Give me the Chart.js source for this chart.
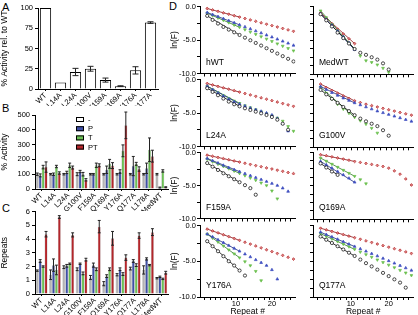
<!DOCTYPE html>
<html>
<head>
<meta charset="utf-8">
<script src="https://cdn.jsdelivr.net/npm/chart.js@4.4.0/dist/chart.umd.min.js"></script>
<style>
body { margin: 0; background: #fff; width: 418px; height: 315px; overflow: hidden; position: relative; font-family: 'Liberation Sans', Arial, sans-serif; }
canvas { position: absolute; }
.lab { position: absolute; font-size: 11px; line-height: 11px; }
</style>
</head>
<body>
<div class="lab" style="left:2px;top:2px">A</div>
<div class="lab" style="left:2px;top:103px">B</div>
<div class="lab" style="left:2px;top:203px">C</div>
<div class="lab" style="left:169px;top:1px">D</div>
<script>
// Panel A: activity relative to WT
const mutantsA = ['WT', 'L14A', 'L24A', 'G100V', 'F159A', 'Q169A', 'Y176A', 'Q177A'];
const activityRel = [100, 8, 21, 25, 11, 3.5, 23, 82];
const activityRelErr = [0, 0, 4.5, 3, 2.5, 0.5, 4.5, 1];

// Panels B and C
const mutantsBC = ['WT', 'L14A', 'L24A', 'G100V', 'F159A', 'Q169A', 'Y176A', 'Q177A', 'L178A', 'MedWT'];
const condLabels = ['-', 'P', 'T', 'PT'];

const activityNone = [100, 100, 100, 100, 100, 100, 100, 100, 100, 100];
const activityP = [92, 100, 112, 118, 100, 130, 118, 155, 140, 10];
const activityT = [148, 152, 160, 100, 160, 170, 258, 170, 265, 122];
const activityPT = [148, 108, 145, 62, 160, 158, 430, 135, 222, 12];
const activityNoneErr = [8, 5, 5, 10, 5, 5, 5, 5, 5, 5];
const activityPErr = [10, 8, 8, 8, 5, 25, 12, 65, 35, 3];
const activityTErr = [12, 8, 15, 12, 15, 30, 40, 10, 80, 8];
const activityPTErr = [35, 8, 10, 8, 10, 20, 90, 15, 40, 3];

const repeatsNone = [1.7, 1.4, 1.95, 1.8, 1.2, 0.75, 1.4, 1.85, 1.75, 1.15];
const repeatsP = [2.4, 2.1, 2.05, 2.2, 2.1, 1.3, 1.8, 2.4, 2.55, 1.25];
const repeatsT = [2.0, 1.75, 2.2, 1.5, 1.8, 1.8, 1.45, 2.1, 2.1, 1.1];
const repeatsPT = [4.35, 5.6, 4.3, 2.5, 4.9, 4.05, 2.65, 4.25, 4.5, 1.55];
const repeatsNoneErr = [0.05, 0.35, 0.1, 0.1, 0.15, 0.15, 0.08, 0.1, 0.3, 0.05];
const repeatsPErr = [0.1, 0.45, 0.1, 0.05, 0.15, 0.1, 0.1, 0.1, 0.08, 0.05];
const repeatsTErr = [0.05, 0.35, 0.05, 0.1, 0.1, 0.1, 0.1, 0.1, 0.05, 0.05];
const repeatsPTErr = [0.2, 0.1, 0.15, 0.1, 0.45, 0.5, 0.2, 0.2, 0.25, 0.1];

// Panel D: ln(F) against repeat number
const repeatX = [2, 3.5, 5, 6.5, 8, 9.5, 11, 12.5, 14, 15.5, 17, 18.5, 20, 21.5, 23, 24.5, 26];
const repeatTicks = [1.3, 2.8, 4.3, 5.8, 7.3, 8.8, 10.3, 11.8, 13.3, 14.8, 16.3, 17.8, 19.3, 20.8, 22.3, 23.8, 25.3];
const repeatLabels = [10, 20];
const lnTicks = [0, -1.25, -2.5, -3.75, -5, -6.25, -7.5, -8.75, -10];

const hwtNone = [-1.40, -2.00, -2.55, -3.05, -3.45, -3.85, -4.25, -4.65, -5.04, -5.44, -5.83, -6.23, -6.62, -7.02, -7.41, -7.81, -8.20];
const hwtP = [-0.90, -1.21, -1.51, -1.82, -2.12, -2.43, -2.74, -3.04, -3.35, -3.66, -3.96, -4.27, -4.57, -4.88, -5.19, -5.49, -5.80];
const hwtT = [-1.00, -1.35, -1.70, -2.05, -2.40, -2.75, -3.10, -3.45, -3.80, -4.15, -4.50, -4.85, -5.20, -5.55, -5.90, -6.25, -6.60];
const hwtPT = [-0.30, -0.51, -0.72, -0.94, -1.15, -1.36, -1.58, -1.79, -2.00, -2.21, -2.43, -2.64, -2.85, -3.06, -3.28, -3.49, -3.70];

const medNone = [-1.2, -2.1, -3.0, -3.9, -4.7, -5.5, -6.3, -6.85, -7.15, -7.5, -7.85, -8.4, -9.3];
const medP = [-1.1, -1.95, -2.8, -3.65, -4.5, -5.4, -6.4];
const medT = [-0.7, -1.7, -2.7, -3.6, -4.5, -5.4, -6.3, -7.3, -8.0, -8.25, -8.6, -9.1, -9.7];
const medPT = [-1.0, -1.8, -2.6, -3.4, -4.1, -4.8, -5.5];

const l24None = [-1.3, -1.85, -2.35, -2.85, -3.3, -3.7, -4.0, -4.3, -4.55, -4.8, -5.05, -5.3, -5.6, -6.0, -6.6, -7.5];
const l24P = [-1.0, -1.5, -2.0, -2.45, -2.9, -3.3, -3.65, -3.95, -4.25, -4.5, -4.75, -5.0, -5.3, -5.8, -6.6, -7.7];
const l24T = [-1.0, -1.5, -1.95, -2.4, -2.8, -3.2, -3.55, -3.9, -4.2, -4.5, -4.8, -5.1, -5.4, -5.75, -6.2, -7.0, -7.7];
const l24PT = [-0.60, -0.81, -1.03, -1.24, -1.45, -1.66, -1.88, -2.09, -2.30, -2.51, -2.73, -2.94, -3.15, -3.36, -3.58, -3.79, -4.00];

const g100None = [-1.6, -2.25, -2.9, -3.5, -4.1, -4.7, -5.3, -5.8, -6.2, -6.55, -6.9, -7.5, -8.3];
const g100P = [-1.1, -1.55, -2.0, -2.4, -2.8, -3.15, -3.5, -3.8, -4.1, -4.4, -4.7, -4.95, -5.2, -5.45, -5.7, -5.95, -6.2];
const g100T = [-1.2, -2.1, -2.9, -3.7, -4.4, -5.0, -5.6, -6.1, -6.6, -7.2, -7.9];
const g100PT = [-0.75, -1.25, -1.7, -2.1, -2.5, -2.85, -3.2, -3.45, -3.7, -3.9, -4.1, -4.3, -4.5, -4.7, -4.9, -5.1, -5.3];

const f159None = [-1.6, -2.15, -2.65, -3.15, -3.6, -4.05, -4.5, -4.95, -5.4, -6.4];
const f159P = [-0.9, -1.25, -1.6, -1.95, -2.3, -2.6, -2.9, -3.2, -3.5, -3.8, -4.1, -4.4, -4.7, -5.0, -5.4, -5.9];
const f159T = [-1.0, -1.4, -1.75, -2.1, -2.45, -2.8, -3.15, -3.5, -3.85, -4.2, -4.6, -5.0, -5.8, -7.0];
const f159PT = [-0.40, -0.58, -0.75, -0.93, -1.10, -1.28, -1.45, -1.63, -1.80, -1.98, -2.15, -2.33, -2.50, -2.68, -2.85, -3.03, -3.20];

const q169None = [-1.7, -2.3, -2.9, -3.4];
const q169P = [-1.4, -1.9, -2.4, -2.9, -3.4, -3.9, -4.5];
const q169T = [-0.9, -1.35, -1.8, -2.25, -2.7, -3.15, -3.6, -4.1, -4.7];
const q169PT = [-0.40, -0.55, -0.72, -0.88, -1.05, -1.22, -1.40, -1.55, -1.70, -1.85, -2.00, -2.15, -2.40, -2.80, -3.30, -4.00, -4.90];

const y176None = [-2.2, -2.9, -3.6, -4.3, -5.0, -5.6, -6.3, -7.0];
const y176P = [-1.2, -1.6, -2.0, -2.4, -2.8, -3.2, -3.6, -4.0, -4.4, -4.8, -5.2, -5.6, -6.2, -7.5];
const y176T = [-1.2, -1.75, -2.3, -2.85, -3.4, -3.95, -4.5, -5.05, -5.6, -6.4, -7.7];
const y176PT = [-0.50, -0.76, -1.03, -1.29, -1.55, -1.81, -2.08, -2.34, -2.60, -2.86, -3.13, -3.39, -3.65, -3.91, -4.18, -4.44, -4.70];

const q177None = [-1.6, -2.05, -2.5, -2.95, -3.4, -3.85, -4.3, -4.8, -5.3, -5.75, -6.2, -6.65, -7.1, -7.55, -8.0, -8.7];
const q177P = [-1.00, -1.33, -1.66, -1.99, -2.32, -2.66, -2.99, -3.32, -3.65, -3.98, -4.31, -4.64, -4.98, -5.31, -5.64, -5.97, -6.30];
const q177T = [-1.20, -1.56, -1.93, -2.29, -2.65, -3.01, -3.38, -3.74, -4.10, -4.46, -4.83, -5.19, -5.55, -5.91, -6.28, -6.64, -7.00];
const q177PT = [-0.45, -0.67, -0.89, -1.11, -1.33, -1.54, -1.76, -1.98, -2.20, -2.42, -2.64, -2.86, -3.08, -3.29, -3.51, -3.73, -3.95];

Chart.defaults.font.family = "'Liberation Sans', Arial, sans-serif";
Chart.defaults.font.size = 7.5;
Chart.defaults.color = '#000';
Chart.defaults.animation = false;
Chart.defaults.plugins.legend.display = false;
Chart.defaults.plugins.tooltip.enabled = false;

const axisLine = { display: true, color: '#000', width: 1 };
const tickGrid = { drawOnChartArea: false, color: '#000', tickLength: 3 };

const barColors = ['#b3b3b3', '#3f4fa6', '#6cbf55', '#b3262b'];
const legendFills = ['#fff', '#3f4fa6', '#6cbf55', '#b3262b'];

function addCanvas(left, top, w, h) {
  const c = document.createElement('canvas');
  c.width = w; c.height = h;
  c.style.left = left + 'px'; c.style.top = top + 'px';
  c.style.width = w + 'px'; c.style.height = h + 'px';
  document.body.appendChild(c);
  return c;
}

// error bars drawn from dataset.errors
const errorBars = {
  id: 'errorBars',
  afterDatasetsDraw(chart) {
    const ctx = chart.ctx, y = chart.scales.y;
    chart.data.datasets.forEach((ds, di) => {
      if (!ds.errors) return;
      chart.getDatasetMeta(di).data.forEach((bar, i) => {
        const e = ds.errors[i];
        if (!e) return;
        const v = ds.data[i];
        const top = y.getPixelForValue(v + e), bot = y.getPixelForValue(v - e);
        const half = Math.min(3, bar.width / 2);
        ctx.save();
        ctx.strokeStyle = '#222';
        ctx.lineWidth = 1;
        ctx.beginPath();
        ctx.moveTo(bar.x, top); ctx.lineTo(bar.x, bot);
        ctx.moveTo(bar.x - half, top); ctx.lineTo(bar.x + half, top);
        ctx.moveTo(bar.x - half, bot); ctx.lineTo(bar.x + half, bot);
        ctx.stroke();
        ctx.restore();
      });
    });
  }
};

// small boxed legend inside panel B
const boxLegend = {
  id: 'boxLegend',
  afterDraw(chart) {
    const ctx = chart.ctx, a = chart.chartArea;
    ctx.save();
    ctx.font = "7.5px 'Liberation Sans'";
    ctx.textBaseline = 'middle';
    chart.data.datasets.forEach((ds, i) => {
      const x = a.left + 41, y = a.top + 2 + i * 9.2;
      ctx.fillStyle = legendFills[i];
      ctx.fillRect(x, y, 8, 5);
      ctx.strokeStyle = '#000';
      ctx.lineWidth = 1;
      ctx.strokeRect(x + 0.5, y + 0.5, 7, 4);
      ctx.fillStyle = '#000';
      ctx.fillText(ds.label, x + 12, y + 3);
    });
    ctx.restore();
  }
};

const panelName = {
  id: 'panelName',
  afterDraw(chart, args, opts) {
    const ctx = chart.ctx, a = chart.chartArea;
    ctx.save();
    ctx.font = "8.5px 'Liberation Sans'";
    ctx.fillStyle = '#000';
    ctx.fillText(opts.text, a.left + 6, a.bottom - 9);
    ctx.restore();
  }
};

function catAxis(h) {
  return {
    grid: { drawOnChartArea: false, color: '#000', tickLength: 2, offset: false },
    border: axisLine,
    ticks: { minRotation: 45, maxRotation: 45, autoSkip: false, padding: 0 },
    afterFit: s => { s.height = h; }
  };
}

// A
new Chart(addCanvas(0, 0, 162, 106), {
  type: 'bar',
  data: {
    labels: mutantsA,
    datasets: [{ data: activityRel, errors: activityRelErr, backgroundColor: '#fff', borderColor: '#000', borderWidth: 1, barPercentage: 0.75, categoryPercentage: 1 }]
  },
  options: {
    responsive: false,
    layout: { padding: { top: 8, right: 4 } },
    scales: {
      x: catAxis(17),
      y: {
        min: 0, max: 100,
        ticks: { stepSize: 25, padding: 2 },
        grid: tickGrid, border: axisLine,
        title: { display: true, text: '% Activity rel. to WT', padding: 0, font: { size: 8.5 } },
        afterFit: s => { s.width = 38; }
      }
    }
  },
  plugins: [errorBars]
});

function groupedBars(canvas, values, errors, maxY, step, yTitle, padTop, xH, withLegend) {
  return new Chart(canvas, {
    type: 'bar',
    data: {
      labels: mutantsBC,
      datasets: condLabels.map((c, i) => ({
        label: c, data: values[i], errors: errors[i],
        backgroundColor: barColors[i], borderColor: 'rgba(0,0,0,0.35)', borderWidth: 0.5,
        barPercentage: 1, categoryPercentage: 0.88
      }))
    },
    options: {
      responsive: false,
      layout: { padding: { top: padTop, right: 4 } },
      scales: {
        x: catAxis(xH),
        y: {
          min: 0, max: maxY,
          ticks: { stepSize: step, padding: 2 },
          grid: tickGrid, border: axisLine,
          title: { display: true, text: yTitle, padding: 0, font: { size: 8.5 } },
          afterFit: s => { s.width = 35; }
        }
      }
    },
    plugins: withLegend ? [errorBars, boxLegend] : [errorBars]
  });
}

groupedBars(addCanvas(0, 103, 172, 108),
  [activityNone, activityP, activityT, activityPT],
  [activityNoneErr, activityPErr, activityTErr, activityPTErr],
  500, 100, '% Activity', 12, 22, true);

groupedBars(addCanvas(0, 205, 172, 110),
  [repeatsNone, repeatsP, repeatsT, repeatsPT],
  [repeatsNoneErr, repeatsPErr, repeatsTErr, repeatsPTErr],
  6, 1, 'Repeats', 6, 21, false);

// D
const decayStyles = [
  { pointStyle: 'circle', bg: '#fff', border: '#000', rotation: 0, fit: '#000', radius: 1.6 },
  { pointStyle: 'triangle', bg: '#3f4fc0', border: '#3f4fc0', rotation: 0, fit: '#1c2a80', radius: 1.6 },
  { pointStyle: 'triangle', bg: '#6cc04f', border: '#6cc04f', rotation: 180, fit: '#2f7a25', radius: 1.6 },
  { pointStyle: 'rectRot', bg: '#d98080', border: '#b8262a', rotation: 0, fit: '#8a1418', radius: 1.4 }
];
const rowAreas = [[5.5, 74], [79, 147.5], [152, 220], [224.5, 296]];
const fitPoints = 7;

const decayPanels = [
  { name: 'hWT', col: 0, row: 0, series: [hwtNone, hwtP, hwtT, hwtPT] },
  { name: 'MedWT', col: 1, row: 0, series: [medNone, medP, medT, medPT] },
  { name: 'L24A', col: 0, row: 1, series: [l24None, l24P, l24T, l24PT] },
  { name: 'G100V', col: 1, row: 1, series: [g100None, g100P, g100T, g100PT] },
  { name: 'F159A', col: 0, row: 2, series: [f159None, f159P, f159T, f159PT] },
  { name: 'Q169A', col: 1, row: 2, series: [q169None, q169P, q169T, q169PT] },
  { name: 'Y176A', col: 0, row: 3, series: [y176None, y176P, y176T, y176PT] },
  { name: 'Q177A', col: 1, row: 3, series: [q177None, q177P, q177T, q177PT] }
];

const xTickValues = repeatTicks.concat(repeatLabels).sort((a, b) => a - b);

decayPanels.forEach(p => {
  const leftCol = p.col === 0;
  const bottomRow = p.row === 3;
  const [areaTop, areaBottom] = rowAreas[p.row];
  const padTop = 5;
  const xH = bottomRow ? 19 : 4;
  const canvas = addCanvas(leftCol ? 170 : 305, areaTop - padTop, leftCol ? 130 : 113,
    Math.round(areaBottom - areaTop + padTop + xH));

  const datasets = [];
  p.series.forEach((ys, i) => {
    const st = decayStyles[i];
    datasets.push({
      data: ys.map((y, k) => ({ x: repeatX[k], y })),
      pointStyle: st.pointStyle, pointRotation: st.rotation,
      pointRadius: st.radius, pointBorderWidth: 0.7,
      pointBackgroundColor: st.bg, pointBorderColor: st.border,
      showLine: false
    });
  });
  p.series.forEach((ys, i) => {
    const n = Math.min(ys.length, fitPoints) - 1;
    datasets.push({
      data: [{ x: repeatX[0], y: ys[0] }, { x: repeatX[n], y: ys[n] }],
      showLine: true, pointRadius: 0, borderColor: decayStyles[i].fit, borderWidth: 0.8
    });
  });

  new Chart(canvas, {
    type: 'scatter',
    data: { datasets },
    options: {
      responsive: false,
      layout: { padding: { top: padTop, right: 0 } },
      scales: {
        x: {
          min: 0, max: 26.5,
          afterBuildTicks: s => { s.ticks = xTickValues.map(v => ({ value: v })); },
          ticks: {
            display: bottomRow, padding: 0, maxRotation: 0, autoSkip: false,
            font: { size: 7.5, lineHeight: 1 },
            callback: v => (repeatLabels.includes(v) ? String(v) : '')
          },
          grid: {
            drawOnChartArea: false, tickLength: 3,
            color: c => (c.tick && repeatLabels.includes(c.tick.value) ? 'rgba(0,0,0,0)' : '#000')
          },
          border: axisLine,
          title: { display: bottomRow, text: 'Repeat #', padding: 0, font: { size: 8.5, lineHeight: 1 } },
          afterFit: s => { s.height = xH; }
        },
        y: {
          min: -10, max: 0,
          afterBuildTicks: s => { s.ticks = lnTicks.map(v => ({ value: v })); },
          ticks: { display: leftCol, padding: 1, callback: v => (v % 5 === 0 ? v.toFixed(1) : '') },
          grid: tickGrid, border: axisLine,
          title: { display: leftCol, text: 'ln(F)', padding: 0, font: { size: 8.5 } },
          afterFit: s => { s.width = leftCol ? 30 : 8; }
        }
      },
      plugins: { panelName: { text: p.name } }
    },
    plugins: [panelName]
  });
});
</script>
</body>
</html>
